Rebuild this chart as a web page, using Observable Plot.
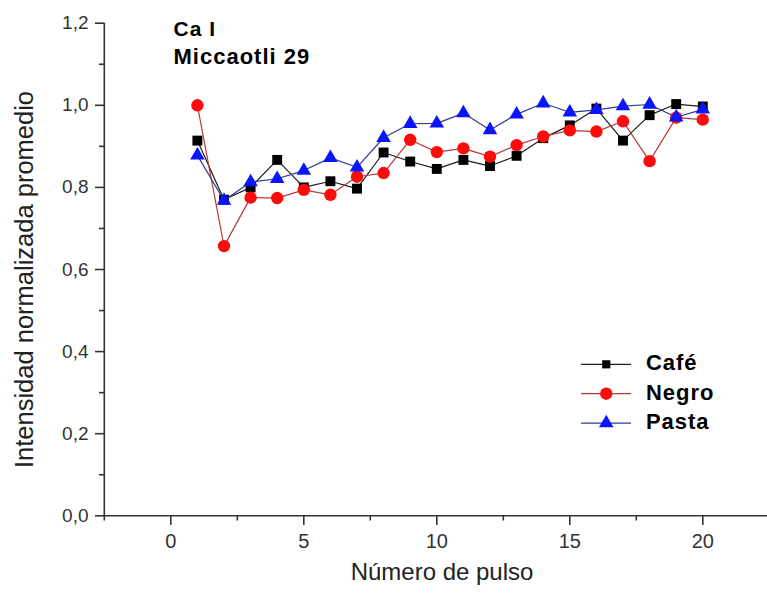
<!DOCTYPE html>
<html>
<head>
<meta charset="utf-8">
<script src="https://cdn.jsdelivr.net/npm/d3@7"></script>
<script src="https://cdn.jsdelivr.net/npm/@observablehq/plot@0.6"></script>
<style>
  html, body { margin: 0; padding: 0; background: #fff; }
  #chart svg { font-family: "Liberation Sans", Arial, sans-serif; display: block; }
</style>
</head>
<body>
<div id="chart"></div>
<script>
// Normalised mean intensity of the Ca I line per laser pulse, Miccaotli 29
const pulsos = [1, 2, 3, 4, 5, 6, 7, 8, 9, 10, 11, 12, 13, 14, 15, 16, 17, 18, 19, 20];
const cafe  = [0.914, 0.770, 0.800, 0.867, 0.800, 0.815, 0.797, 0.885, 0.863, 0.845,
               0.867, 0.852, 0.877, 0.920, 0.951, 0.992, 0.914, 0.976, 1.003, 0.997];
const negro = [1.000, 0.657, 0.775, 0.774, 0.794, 0.782, 0.826, 0.835, 0.916, 0.886,
               0.895, 0.875, 0.903, 0.924, 0.939, 0.936, 0.961, 0.864, 0.970, 0.965];
const pasta = [0.878, 0.768, 0.813, 0.821, 0.841, 0.872, 0.849, 0.921, 0.955, 0.956,
               0.981, 0.940, 0.978, 1.005, 0.983, 0.989, 0.998, 1.002, 0.971, 0.990];
const series = ["Café", "Negro", "Pasta"];
const valores = [cafe, negro, pasta];

const xTicks = [0, 5, 10, 15, 20];
const xMinor = [-2.5, 2.5, 7.5, 12.5, 17.5, 22.5];
const yTicks = [0, 0.2, 0.4, 0.6, 0.8, 1.0, 1.2];
const yMinor = [0.1, 0.3, 0.5, 0.7, 0.9, 1.1];

const titulo = ["Ca I", "Miccaotli 29"];
const xLabel = "Número de pulso";
const yLabel = "Intensidad normalizada promedio";

// one row per (series, pulse)
const filas = series.flatMap((s, k) =>
  pulsos.map((p, i) => ({serie: s, pulso: p, valor: valores[k][i]})));

const estilo = {
  "Café":  {line: "#1c1c1c", fill: "#000000", symbol: "square",   r: 5.6},
  "Negro": {line: "#b83a3a", fill: "#ff0a0a", symbol: "circle",   r: 6.2},
  "Pasta": {line: "#2d3b96", fill: "#0a14ff", symbol: "triangle", r: 5.4}
};

const axisColor = "#333";
const fmt = d => d.toFixed(1).replace(".", ",");

// legend placement (data units, lower right of the frame)
const legX1 = 15.44, legX2 = 17.32, legXm = 16.37, legXt = 17.86;
const legY0 = 0.369, legStep = 0.0715;

const marks = [
  // axis lines
  Plot.ruleY([0], {x1: -2.5, x2: 22.5, stroke: axisColor, strokeWidth: 1.6}),
  Plot.ruleX([-2.5], {y1: 0, y2: 1.2, stroke: axisColor, strokeWidth: 1.6}),
  // y axis: major ticks with labels, minor ticks
  Plot.axisY({ticks: yTicks, tickSize: 9, tickPadding: 7, tickFormat: fmt,
              fontSize: 19, stroke: axisColor, fill: axisColor, strokeWidth: 1.6, label: null}),
  Plot.axisY({ticks: yMinor, tickSize: 5, tickFormat: () => "",
              stroke: axisColor, strokeWidth: 1.6, label: null}),
  // x axis: major ticks with labels, minor ticks
  Plot.axisX({ticks: xTicks, tickSize: 10, tickPadding: 8, tickFormat: d => String(d),
              fontSize: 20, stroke: axisColor, fill: axisColor, strokeWidth: 1.6, label: null}),
  Plot.axisX({ticks: xMinor, tickSize: 5.5, tickFormat: () => "",
              stroke: axisColor, strokeWidth: 1.6, label: null}),
  // axis titles
  Plot.text([xLabel], {frameAnchor: "bottom", dx: 5, dy: 57, lineAnchor: "middle",
                       fontSize: 24, fill: "#222"}),
  Plot.text([yLabel], {frameAnchor: "left", dx: -80, dy: 10, rotate: -90,
                       textAnchor: "middle", lineAnchor: "middle",
                       fontSize: 25.5, fill: "#222"}),
  // title block
  Plot.text([titulo[0]], {frameAnchor: "top-left", dx: 69, dy: 12.5, lineAnchor: "bottom",
                          textAnchor: "start", fontSize: 21, fontWeight: "bold", fill: "#000"}),
  Plot.text([titulo[1]], {frameAnchor: "top-left", dx: 69, dy: 40.5, lineAnchor: "bottom",
                          textAnchor: "start", fontSize: 22, fontWeight: "bold", fill: "#000"})
];

// series: line then markers, drawn in order so later series sit on top
for (const s of series) {
  const e = estilo[s];
  const d = filas.filter(r => r.serie === s);
  marks.push(
    Plot.line(d, {x: "pulso", y: "valor", stroke: e.line, strokeWidth: 1.2}),
    Plot.dot(d, {x: "pulso", y: "valor", symbol: () => e.symbol, r: e.r, fill: e.fill, stroke: "none"})
  );
}

// legend
series.forEach((s, k) => {
  const e = estilo[s];
  const y = legY0 - k * legStep;
  marks.push(
    Plot.ruleY([y], {x1: legX1, x2: legX2, stroke: e.line, strokeWidth: 1.2}),
    Plot.dot([s], {x: () => legXm, y: () => y, symbol: () => e.symbol,
                   r: s === "Café" ? 4.6 : e.r, fill: e.fill, stroke: "none"}),
    Plot.text([s], {x: () => legXt, y: () => y, dy: -1, textAnchor: "start", lineAnchor: "middle",
                    fontSize: 22, fontWeight: "bold", fill: "#000"})
  );
});

const chart = Plot.plot({
  width: 767,
  height: 599,
  marginLeft: 104,
  marginRight: -2,
  marginTop: 23,
  marginBottom: 84,
  style: {background: "#fff", overflow: "visible"},
  x: {domain: [-2.5, 22.5], range: [103.8, 768.8]},
  y: {domain: [0, 1.2], range: [515.3, 22.7]},
  symbol: {type: "identity"},
  marks
});

// the bold annotation text is set slightly wider
const spacing = new Map([["Ca I", "1px"], ["Miccaotli 29", "1px"],
                         ["Café", "1px"], ["Negro", "1px"], ["Pasta", "1px"]]);
d3.select(chart).selectAll("text").each(function () {
  const ls = spacing.get(this.textContent);
  if (ls) this.setAttribute("letter-spacing", ls);
});

document.getElementById("chart").append(chart);
</script>
</body>
</html>
